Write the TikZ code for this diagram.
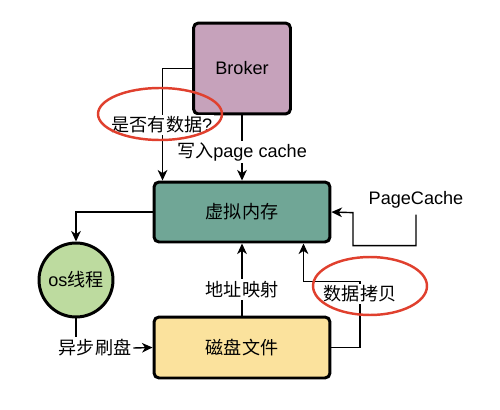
\documentclass[tikz,border=0pt]{standalone}
\usepackage{fontspec}
\setmainfont{Liberation Sans}
\newfontfamily\cjk{Noto Sans CJK SC}
\usetikzlibrary{arrows.meta}
\definecolor{brokerfill}{HTML}{C6A2BB}
\definecolor{vmfill}{HTML}{70A696}
\definecolor{osfill}{HTML}{BDDB9F}
\definecolor{diskfill}{HTML}{FBE29D}
\definecolor{penred}{HTML}{E0402E}
\begin{document}
\begin{tikzpicture}[x=0.02cm,y=-0.02cm,>={Stealth[length=6pt,width=5.5pt,inset=1.8pt]},
    font=\fontsize{10.3}{12}\selectfont,
    box/.style={draw,line width=1.7pt,rounded corners=0.1cm},
    lbl/.style={fill=white,inner sep=1pt},
    conn/.style={line width=0.8pt},
    redloop/.style={draw=penred,line width=1.4pt}]
            \useasboundingbox (0,0) rectangle (500,409);
            \node[box,fill=brokerfill,minimum width=1.94cm,minimum height=1.82cm] (broker) at (242,68.5) {Broker};
            \node[box,fill=vmfill,minimum width=3.52cm,minimum height=1.2cm] (vm) at (242,212) {\cjk 虚拟内存};
            \node[box,fill=diskfill,minimum width=3.52cm,minimum height=1.22cm] (disk) at (242,347.5) {\cjk 磁盘文件};
            \node[draw,circle,line width=1.7pt,fill=osfill,minimum size=1.48cm,inner sep=0pt] (os) at (76,280) {os{\cjk 线程}};
            \node (pc) at (416,200) {PageCache};
            \node[lbl] (flush) at (95,348) {\cjk 异步刷盘};
            \node[lbl] (copy) at (360,294) {\cjk 数据拷贝};
            \draw[->,conn] (broker.west) -| ([xshift=0.2cm]vm.north west);
            \draw[->,conn] (broker.south) -- node[lbl,pos=0.56] (write) {{\cjk 写入}page cache} (vm.north);
            \node[lbl] (check) at (162,125) {{\cjk 是否有数据}?};
            \draw[->,conn] (pc.south) -- ++(0,31) -| ++(-63,-33) -- (vm.east);
            \draw[->,conn] (vm.west) -| (os.north);
            \draw[conn] (os.south) -- (os.south |- flush.north);
            \draw[->,conn] (flush.east) -- (disk.west);
            \draw[->,conn] (disk.north) -- node[lbl,pos=0.36] (map) {\cjk 地址映射} (vm.south);
            \draw[conn] (disk.east) -| (copy.south);
            \draw[->,conn] (copy.north) -- ++(0,-2) -| ([xshift=-0.56cm]vm.south east);
            \draw[redloop] (160,114) ellipse [x radius=1.24cm,y radius=0.52cm];
            \draw[redloop] (370,286) ellipse [x radius=1.14cm,y radius=0.58cm];
\end{tikzpicture}
\end{document}
